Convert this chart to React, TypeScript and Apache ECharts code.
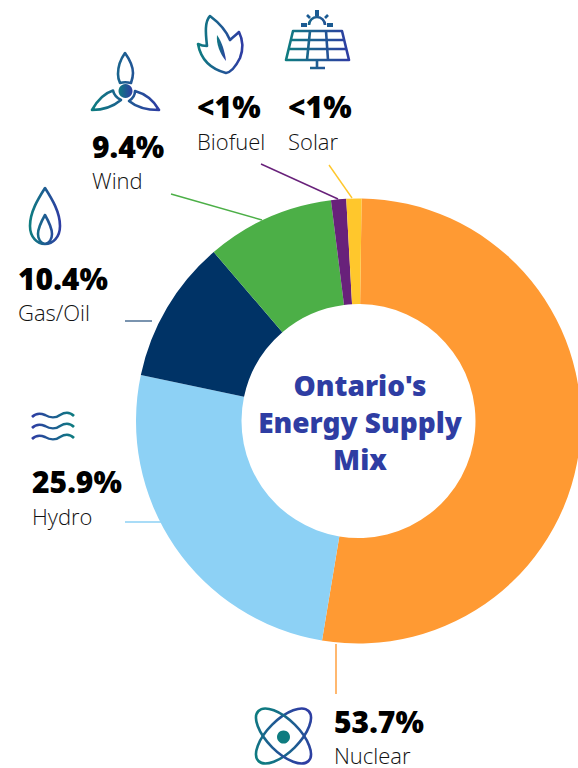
import React, { useEffect, useRef } from "react";
import * as echarts from "echarts";

const categories = ["Nuclear", "Hydro", "Gas/Oil", "Wind", "Biofuel", "Solar"];
const shareLabels = ["53.7%", "25.9%", "10.4%", "9.4%", "<1%", "<1%"];
const drawnValues = [52.4, 25.7, 10.4, 9.3, 1.1, 1.1];
const sliceColors = ["#FF9A33", "#8DD1F5", "#003366", "#4CAF47", "#68217A", "#FFC72C"];
const centerTitle = ["Ontario's", "Energy Supply", "Mix"];

const W = 578, H = 768;
const labelPos = [
  { x: 334, yShare: 721, yName: 755 },
  { x: 32, yShare: 481, yName: 516 },
  { x: 18, yShare: 278, yName: 312 },
  { x: 92, yShare: 146, yName: 180 },
  { x: 197, yShare: 106, yName: 141 },
  { x: 288, yShare: 106, yName: 141 },
];
const leaders = [
  [336, 644, 336, 694],
  [125, 522, 161, 522],
  [125, 321, 152, 321],
  [171, 194, 262, 220],
  [261, 164, 338, 199],
  [329, 165, 352, 198],
];

const ICONS: Record<string, string> = {
  icoGas: "M45 188 C38 199 30 212 30 226 C30 237 37 244 45 244 C53 244 60 237 60 226 C60 212 52 199 45 188 Z M45 215 C41 222 38 228 38 234 C38 239 41 243 45 244 C49 243 52 239 52 234 C52 228 49 222 45 215 Z",
  icoHydro: "M32 417 C36 413 40 413 45 415 C50 418 56 418 60 415 C65 412 70 412 74 416 M32 428 C36 424 40 424 45 426 C50 429 56 429 60 426 C65 423 70 423 74 427 M32 439 C36 435 40 435 45 437 C50 440 56 440 60 437 C65 434 70 434 74 438",
  icoWind: "M125 53 C120 60 118 68 118 74 C118 78 119 81 120 83 C123 82 127 82 131 83 C132 80 133 77 133 73 C133 67 130 60 125 53 Z M92 110 C97 101 105 93 113 90.5 C114 95 117 98 121 100 C115 105 105 110 92 110 Z M159 110 C154 101 146 94 135 91 C135 95 132 99 129 101 C135 106 146 110 159 110 Z",
  icoLeaf: "M210 16 C204 22 206 36 207 46 C203 46 200 45 198 44 C200 55 207 68 226 73 C232 72 236 66 240 58 C243 50 243 40 239 32 C236 35 233 37 230 40 C226 30 218 22 210 16 Z",
  icoLeafVein: "M217 35 C222 42 225 52 226 61 C220 54 216 44 217 35 Z",
  icoPanel: "M293 31 L342 31 L349 60 L286 60 Z M290 40 L345 40 M288 49 L347 49 M310 31 L307 60 M326 31 L328 60 M317 60 L317 68 M310 68 L325 68 M309 25 A8 8 0 0 1 325 25",
};
Object.keys(ICONS).forEach((k) => {
  echarts.graphic.registerShape(k, echarts.graphic.extendPath(ICONS[k], {}));
});

const TEAL = "#0E7C80", BLUE = "#2E3DA3", MID = "#1A5A92";
const grad = (flip = false) =>
  new echarts.graphic.LinearGradient(0, 0, 1, 0, [
    { offset: 0, color: flip ? BLUE : TEAL },
    { offset: 1, color: flip ? TEAL : BLUE },
  ]);

const SHARE_FONT = "'Noto Sans', sans-serif";
const NAME_FONT = "'Open Sans', 'Noto Sans', sans-serif";

export default function App() {
  const ref = useRef<HTMLDivElement>(null);
  useEffect(() => {
    document.body.style.margin = "0";
    document.body.style.overflow = "hidden";
    const chart = echarts.init(ref.current!, undefined, { renderer: "svg", width: W, height: H });
    const icon = (type: string, width: number, flip = false, fill: any = "none") => ({
      type, silent: true,
      style: { fill, stroke: grad(flip), lineWidth: width, lineJoin: "round" },
    });
    const seg = (x1: number, y1: number, x2: number, y2: number, w: number) => ({
      type: "line", silent: true, shape: { x1, y1, x2, y2 }, style: { stroke: MID, lineWidth: w },
    });
    const graphics: any[] = [];
    leaders.forEach((l, i) =>
      graphics.push({
        type: "line", silent: true,
        shape: { x1: l[0], y1: l[1], x2: l[2], y2: l[3] },
        style: { stroke: sliceColors[i], lineWidth: 1.4, opacity: i === 2 ? 0.75 : 1 },
      })
    );
    categories.forEach((c, i) => {
      graphics.push({
        type: "text", silent: true, x: labelPos[i].x, y: labelPos[i].yShare,
        style: { text: shareLabels[i], font: `900 30px ${SHARE_FONT}`, fill: "#000", verticalAlign: "middle", align: "left" },
      });
      graphics.push({
        type: "text", silent: true, x: labelPos[i].x, y: labelPos[i].yName,
        style: { text: c, font: `300 22px ${NAME_FONT}`, fill: "#111", verticalAlign: "middle", align: "left" },
      });
    });
    centerTitle.forEach((t, i) =>
      graphics.push({
        type: "text", silent: true, x: 360, y: 385 + i * 37,
        style: { text: t, font: `900 28px ${SHARE_FONT}`, fill: BLUE, align: "center", verticalAlign: "middle" },
      })
    );
    const ring = (rotation: number) => ({
      type: "ellipse", silent: true, x: 283.5, y: 736, rotation,
      shape: { cx: 0, cy: 0, rx: 35.4, ry: 16 },
      style: { fill: "none", stroke: grad(), lineWidth: 2.6 },
    });
    graphics.push(
      icon("icoGas", 2.6),
      icon("icoHydro", 2.6, true),
      icon("icoWind", 2.6),
      { type: "circle", silent: true, shape: { cx: 125.5, cy: 91, r: 7 }, style: { fill: grad() } },
      icon("icoLeaf", 2.6),
      { type: "icoLeafVein", silent: true, style: { fill: grad() } },
      icon("icoPanel", 2.6),
      seg(317, 10, 317, 16, 4),
      seg(307, 15, 310, 18, 2.6),
      seg(328, 15, 325, 18, 2.6),
      seg(301, 25, 307, 25, 4),
      seg(327, 25, 333, 25, 4),
      ring(Math.PI / 4),
      ring(-Math.PI / 4),
      { type: "circle", silent: true, shape: { cx: 283.5, cy: 737, r: 6.5 }, style: { fill: TEAL } }
    );
    chart.setOption({
      animation: false,
      series: [
        {
          type: "pie",
          silent: true,
          center: [358.5, 421],
          radius: [117, 222.5],
          startAngle: 89.2,
          clockwise: true,
          label: { show: false },
          labelLine: { show: false },
          data: categories.map((name, i) => ({
            name,
            value: drawnValues[i],
            itemStyle: { color: sliceColors[i] },
          })),
        },
      ],
      graphic: { elements: graphics },
    });
    return () => chart.dispose();
  }, []);
  return <div ref={ref} style={{ position: "absolute", left: 0, top: 0, width: W, height: H }} />;
}
